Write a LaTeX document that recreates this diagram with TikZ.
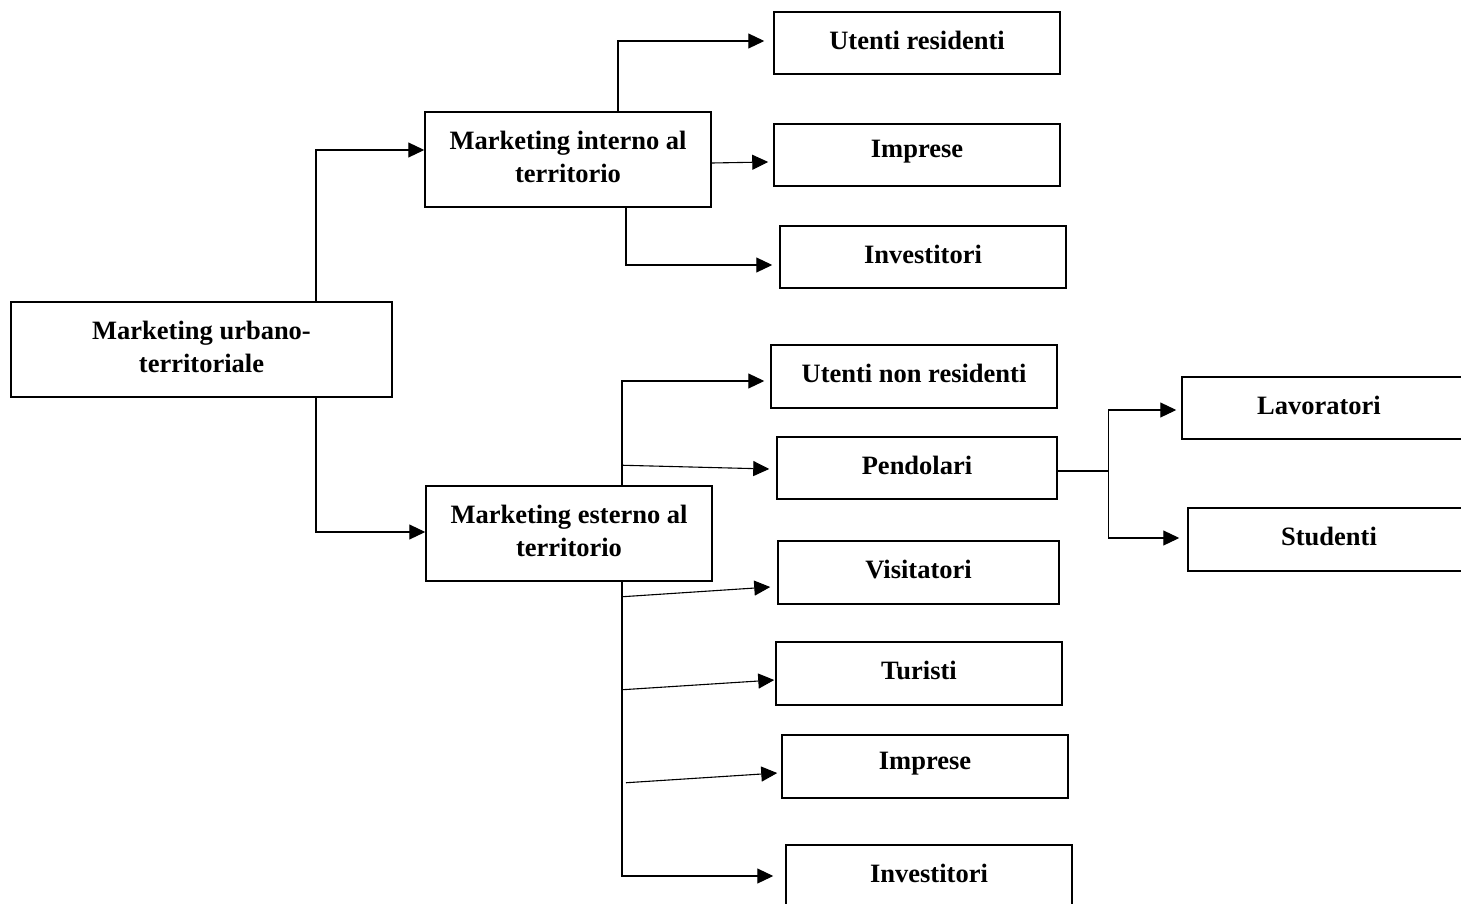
\documentclass[tikz,border=0pt]{standalone}
\usepackage{fontspec}
\setmainfont{Liberation Serif}
\usetikzlibrary{arrows.meta}
\begin{document}
\begin{tikzpicture}[x=1pt,y=-1pt,
  box/.style={draw=black,line width=1.5pt,fill=white,rectangle,inner sep=0pt,
    minimum width=286pt,minimum height=62pt},
  txt/.style={font=\fontsize{26.5}{33}\selectfont\bfseries,align=center,yshift=3pt,inner sep=0pt},
  arr/.style={line width=1.1pt,-{Triangle[length=16pt,width=15pt]}}]
\useasboundingbox (0,0) rectangle (1461,904);
\clip (0,0) rectangle (1461,904);
\fill[white] (0,0) rectangle (1461,904);
% nodes
\node[box,minimum width=381pt,minimum height=95pt,label={[txt]center:Marketing urbano-\\territoriale}] (main) at (201.5,349.5) {};
\node[box,minimum height=95pt,label={[txt]center:Marketing interno al\\territorio}] (interno) at (568,159.5) {};
\node[box,minimum height=95pt,label={[txt]center:Marketing esterno al\\territorio}] (esterno) at (569,533.5) {};
\node[box,label={[txt]center:Utenti residenti}] (ures) at (917,43) {};
\node[box,label={[txt]center:Imprese}] (imp1) at (917,155) {};
\node[box,label={[txt]center:Investitori}] (inv1) at (923,257) {};
\node[box,minimum height=63pt,label={[txt]center:Utenti non residenti}] (unres) at (914,376.5) {};
\node[box,minimum width=280pt,label={[txt]center:Pendolari}] (pend) at (917,468) {};
\node[box,minimum width=281pt,minimum height=63pt,label={[txt]center:Visitatori}] (vis) at (918.5,572.5) {};
\node[box,minimum height=63pt,label={[txt]center:Turisti}] (tur) at (919,673.5) {};
\node[box,minimum height=63pt,label={[txt]center:Imprese}] (imp2) at (925,766.5) {};
\node[box,minimum height=63pt,label={[txt]center:Investitori}] (inv2) at (929,876.5) {};
\node[box,minimum width=284pt,label={[txt,xshift=-5pt]center:Lavoratori}] (lav) at (1324,408) {};
\node[box,minimum width=282pt,minimum height=63pt,label={[txt]center:Studenti}] (stu) at (1329,539.5) {};
% connectors
\draw[arr] ([xshift=114.5pt]main.north) |- ([yshift=9.5pt]interno.west);
\draw[arr] ([xshift=114.5pt]main.south) |- ([yshift=1.5pt]esterno.west);
\draw[arr] ([xshift=50pt]interno.north) |- ([xshift=-9pt,yshift=2pt]ures.west);
\draw[arr] ([yshift=-3.5pt]interno.east) -- ([xshift=-5pt,yshift=-7pt]imp1.west);
\draw[arr] ([xshift=58pt]interno.south) |- ([xshift=-7pt,yshift=-8pt]inv1.west);
\draw[arr] ([xshift=53pt]esterno.north) |- ([xshift=-6pt,yshift=-4.5pt]unres.west);
\draw[arr] ([xshift=53pt,yshift=20pt]esterno.north) -- ([xshift=-7pt,yshift=-1pt]pend.west);
\draw[arr] ([xshift=53pt]esterno.south) |- ([xshift=-12pt,yshift=0.5pt]inv2.west);
\draw[arr] ([xshift=53pt,yshift=-15pt]esterno.south) -- ([xshift=-7pt,yshift=-14.5pt]vis.west);
\draw[arr] ([xshift=53pt,yshift=-108pt]esterno.south) -- ([xshift=-1pt,yshift=-6.5pt]tur.west);
\draw[arr] ([xshift=57pt,yshift=-201pt]esterno.south) -- ([xshift=-4pt,yshift=-6.5pt]imp2.west);
\draw[arr] ([yshift=-3pt]pend.east) -- ++(51,0) |- ([xshift=-5pt,yshift=-2pt]lav.west);
\draw[arr] ([yshift=-3pt]pend.east) -- ++(51,0) |- ([xshift=-8pt,yshift=1.5pt]stu.west);
\end{tikzpicture}
\end{document}
